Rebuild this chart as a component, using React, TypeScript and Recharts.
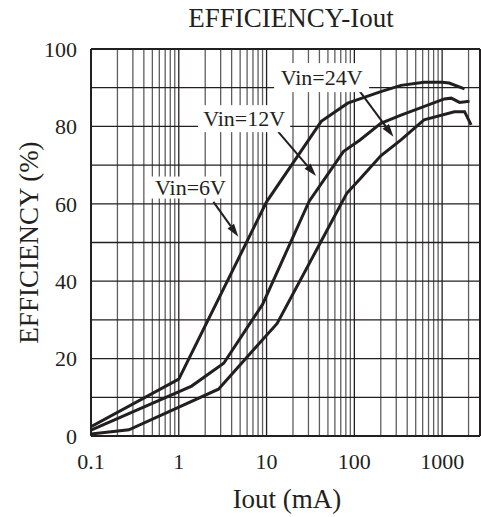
import { LineChart, Line, XAxis, YAxis, ReferenceLine, ReferenceDot } from "recharts";

// Iout (mA) / efficiency (%)
const iout6 = [0.1, 1, 10, 42, 84, 200, 340, 620, 1000, 1200, 1800];
const eff6 = [2.4, 14.7, 60.5, 81.3, 86, 89, 90.6, 91.4, 91.4, 91.2, 89.7];

const iout12 = [0.1, 1.4, 3.25, 9, 30.5, 75, 116, 200, 340, 1060, 1270, 1580, 2050];
const eff12 = [1.5, 12.9, 18.8, 34, 60.6, 73.5, 76.5, 80.8, 82.9, 87.1, 87.3, 86.2, 86.5];

const iout24 = [0.1, 0.27, 2.83, 13.2, 40.7, 82, 120, 200, 340, 622, 1380, 1800, 2140];
const eff24 = [0.5, 1.6, 12.1, 29.1, 49.8, 62.7, 66.8, 72.4, 76.5, 81.7, 83.8, 83.8, 80.4];

const xTicks = [0.1, 1, 10, 100, 1000];
const yTicks = [0, 20, 40, 60, 80, 100];
const xMax = 2700;

const decades = [0.1, 1, 10, 100, 1000];
const minorX = [0.1, 1, 10, 100]
  .flatMap((d) => [2, 3, 4, 5, 6, 7, 8, 9].map((m) => +(d * m).toPrecision(3)))
  .concat([2000]);
const gridY = [10, 20, 30, 40, 50, 60, 70, 80, 90];

// callouts: label centre and arrow (tail -> head), in data units
const callouts = [
  { text: "Vin=6V", x: 1.36, y: 64.2, w: 80, h: 22, from: [2.48, 60.5], to: [4.77, 51.5] },
  { text: "Vin=12V", x: 5.55, y: 82.0, w: 92, h: 27, from: [13.6, 78.6], to: [36.6, 67.2] },
  { text: "Vin=24V", x: 42.4, y: 92.6, w: 95, h: 29, from: [116, 89], to: [279, 77.3] },
];

const INK = "#231f20";
const FONT = "'Liberation Serif', 'Times New Roman', serif";

const toRows = (xs: number[], ys: number[]) => xs.map((iout, i) => ({ iout, eff: ys[i] }));

const Arrow = (props: any) => {
  const { x1, y1, x2, y2 } = props;
  const ang = Math.atan2(y2 - y1, x2 - x1);
  const len = 13;
  const half = 4;
  const bx = x2 - len * Math.cos(ang);
  const by = y2 - len * Math.sin(ang);
  const px = -Math.sin(ang) * half;
  const py = Math.cos(ang) * half;
  return (
    <g>
      <line x1={x1} y1={y1} x2={bx} y2={by} stroke={INK} strokeWidth={2} />
      <polygon points={`${x2},${y2} ${bx + px},${by + py} ${bx - px},${by - py}`} fill={INK} />
    </g>
  );
};

const calloutBox = (c: (typeof callouts)[number]) => (props: any) => {
  const { cx, cy } = props;
  return (
    <g>
      <rect x={cx - c.w / 2} y={cy - c.h / 2} width={c.w} height={c.h} fill="#fff" />
      <text x={cx} y={cy + 7.5} textAnchor="middle" fontFamily={FONT} fontSize={22} fill={INK}>
        {c.text}
      </text>
    </g>
  );
};

export default function App() {
  return (
    <div style={{ position: "fixed", left: 0, top: 0, width: 481, height: 517, background: "#fff" }}>
      <LineChart width={481} height={517} margin={{ top: 49, right: 1, bottom: 0, left: 0 }}>
        <XAxis
          dataKey="iout"
          type="number"
          scale="log"
          domain={[0.1, xMax]}
          allowDataOverflow
          ticks={xTicks}
          tickFormatter={(v: number) => String(v)}
          height={81}
          axisLine={false}
          tickLine={false}
          tickSize={0}
          tickMargin={17}
          tick={{ fill: INK, fontSize: 22, fontFamily: FONT }}
        />
        <YAxis
          type="number"
          domain={[0, 100]}
          ticks={yTicks}
          width={91}
          axisLine={false}
          tickLine={false}
          tickSize={0}
          tickMargin={14}
          tick={{ fill: INK, fontSize: 22, fontFamily: FONT }}
        />
        {minorX.map((v) => (
          <ReferenceLine key={`mx${v}`} x={v} stroke="#5e5e5e" strokeWidth={1.3} />
        ))}
        {decades.map((v) => (
          <ReferenceLine key={`dx${v}`} x={v} stroke={INK} strokeWidth={1.3} />
        ))}
        {gridY.map((v) => (
          <ReferenceLine key={`gy${v}`} y={v} stroke={INK} strokeWidth={1.3} />
        ))}
        <ReferenceLine y={0} stroke={INK} strokeWidth={2} />
        <ReferenceLine y={100} stroke={INK} strokeWidth={2} />
        <ReferenceLine x={0.1} stroke={INK} strokeWidth={2} />
        <ReferenceLine x={xMax} stroke={INK} strokeWidth={2} />
        {callouts.map((c) => (
          <ReferenceDot key={c.text} x={c.x} y={c.y} r={1} shape={calloutBox(c)} />
        ))}
        {callouts.map((c) => (
          <ReferenceLine
            key={`a${c.text}`}
            segment={[
              { x: c.from[0], y: c.from[1] },
              { x: c.to[0], y: c.to[1] },
            ]}
            shape={Arrow}
          />
        ))}
        <Line data={toRows(iout6, eff6)} dataKey="eff" stroke={INK} strokeWidth={3} dot={false} isAnimationActive={false} />
        <Line data={toRows(iout12, eff12)} dataKey="eff" stroke={INK} strokeWidth={3} dot={false} isAnimationActive={false} />
        <Line data={toRows(iout24, eff24)} dataKey="eff" stroke={INK} strokeWidth={3} dot={false} isAnimationActive={false} />
      </LineChart>
      <svg
        width={481}
        height={517}
        style={{ position: "absolute", left: 0, top: 0, pointerEvents: "none" }}
      >
        <text x={291} y={27} textAnchor="middle" fontFamily={FONT} fontSize={27} fill={INK}>
          EFFICIENCY-Iout
        </text>
        <text x={287} y={508} textAnchor="middle" fontFamily={FONT} fontSize={27} fill={INK}>
          Iout (mA)
        </text>
        <text
          x={37.5}
          y={242.5}
          transform="rotate(-90 37.5 242.5)"
          textAnchor="middle"
          fontFamily={FONT}
          fontSize={27}
          fill={INK}
        >
          EFFICIENCY (%)
        </text>
      </svg>
    </div>
  );
}
